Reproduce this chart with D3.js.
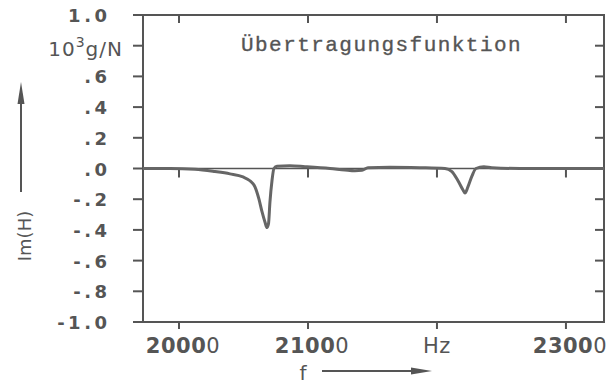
<!DOCTYPE html>
<html>
<head>
<meta charset="utf-8">
<script src="https://cdn.jsdelivr.net/npm/d3@7/dist/d3.min.js"></script>
<style>
  html, body { margin: 0; padding: 0; background: #fff; }
  svg { display: block; }
</style>
</head>
<body>
<svg id="chart" width="614" height="386"></svg>
<script>
// Measured transfer function, imaginary part, vs. frequency
const freqHz = [19721, 19930, 20124, 20279, 20395, 20496, 20550, 20589, 20620, 20643,
  20667, 20682, 20694, 20705, 20721, 20736, 20760, 20860, 20977, 21171,
  21287, 21364, 21419, 21465, 21636, 21868, 22062, 22116, 22163, 22202,
  22217, 22240, 22271, 22302, 22364, 22426, 22643, 22953, 23295];
const imH = [0.0, 0.0, -0.005, -0.02, -0.035, -0.055, -0.08, -0.12, -0.2, -0.28,
  -0.35, -0.385, -0.36, -0.22, -0.08, 0.0, 0.015, 0.018, 0.012, 0.0,
  -0.01, -0.015, -0.012, 0.005, 0.008, 0.005, 0.0, -0.02, -0.08, -0.14,
  -0.16, -0.12, -0.05, 0.0, 0.012, 0.005, 0.0, 0.0, 0.0];

const xTicks = [20000, 21000, 22000, 23000];
const xTickLabels = ["20000", "21000", "Hz", "23000"];
const yTicks = [1.0, 0.8, 0.6, 0.4, 0.2, 0.0, -0.2, -0.4, -0.6, -0.8, -1.0];
const yTickLabels = ["1.0", "", ".6", ".4", ".2", ".0", "-.2", "-.4", "-.6", "-.8", "-1.0"];

const svg = d3.select("#chart");
const ink = "#555";
const m = { left: 143, right: 604, top: 15, bottom: 322 };

const x = d3.scaleLinear().domain([19721, 23295]).range([m.left, m.right]);
const y = d3.scaleLinear().domain([-1, 1]).range([m.bottom, m.top]);

const g = svg.append("g").attr("stroke", ink).attr("fill", "none");

// frame
g.append("rect")
  .attr("x", m.left).attr("y", m.top)
  .attr("width", m.right - m.left).attr("height", m.bottom - m.top)
  .attr("stroke-width", 2);

// left ticks (outward)
g.selectAll(".yl").data(yTicks).join("line")
  .attr("x1", m.left - 10).attr("x2", m.left)
  .attr("y1", d => y(d)).attr("y2", d => y(d))
  .attr("stroke-width", 2);

// right ticks (inward)
g.selectAll(".yr").data(yTicks.filter(d => Math.abs(d) < 1)).join("line")
  .attr("x1", m.right - 9).attr("x2", m.right)
  .attr("y1", d => y(d)).attr("y2", d => y(d))
  .attr("stroke-width", 2);

// top ticks (inward), bottom ticks (outward)
g.selectAll(".xt").data(xTicks).join("line")
  .attr("x1", d => x(d)).attr("x2", d => x(d))
  .attr("y1", m.top).attr("y2", m.top + 8)
  .attr("stroke-width", 2);
g.selectAll(".xb").data(xTicks).join("line")
  .attr("x1", d => x(d)).attr("x2", d => x(d))
  .attr("y1", m.bottom).attr("y2", m.bottom + 7)
  .attr("stroke-width", 2);

// zero line with ticks hanging below it
g.append("line")
  .attr("x1", m.left).attr("x2", m.right)
  .attr("y1", y(0)).attr("y2", y(0))
  .attr("stroke-width", 1.4);
g.selectAll(".x0").data(xTicks).join("line")
  .attr("x1", d => x(d)).attr("x2", d => x(d))
  .attr("y1", y(0)).attr("y2", y(0) + 9)
  .attr("stroke-width", 2);

// curve
const line = d3.line().x((d, i) => x(freqHz[i])).y(d => y(d)).curve(d3.curveMonotoneX);
svg.append("path")
  .datum(imH)
  .attr("d", line)
  .attr("fill", "none")
  .attr("stroke", "#666")
  .attr("stroke-width", 3)
  .attr("stroke-linejoin", "round");

// y tick labels
const tickFont = "'DejaVu Sans', sans-serif";
const ySpacing = 3.5;
svg.selectAll(".ylab").data(yTicks).join("text")
  .attr("x", 107 + ySpacing)
  .attr("y", d => y(d) + 7)
  .attr("text-anchor", "end")
  .attr("font-family", tickFont)
  .attr("font-weight", "bold")
  .attr("font-size", 18)
  .attr("letter-spacing", ySpacing)
  .attr("fill", ink)
  .text((d, i) => yTickLabels[i]);

// unit label
const unit = svg.append("text")
  .attr("x", 123).attr("y", 56)
  .attr("text-anchor", "end")
  .attr("font-family", tickFont)
  .attr("font-size", 20)
  .attr("letter-spacing", 1)
  .attr("fill", ink);
unit.append("tspan").text("10");
unit.append("tspan").attr("dy", -9).attr("font-size", 14).text("3");
unit.append("tspan").attr("dy", 9).text("g/N");

// x tick labels (last digit drawn lighter)
const xl = svg.selectAll(".xlab").data(xTicks).join("text")
  .attr("x", d => x(d) + 4)
  .attr("y", 353)
  .attr("text-anchor", "middle")
  .attr("font-family", tickFont)
  .attr("font-size", 21)
  .attr("letter-spacing", 0.5)
  .attr("fill", ink);
xl.each(function(d, i) {
  const t = d3.select(this);
  const s = xTickLabels[i];
  if (/^\d+$/.test(s)) {
    t.append("tspan").attr("font-weight", "bold").text(s.slice(0, -1));
    t.append("tspan").text(s.slice(-1));
  } else {
    t.attr("x", x(d)).text(s);
  }
});

// axis titles with arrows
svg.append("text")
  .attr("transform", "translate(31,236) rotate(-90)")
  .attr("text-anchor", "middle")
  .attr("font-family", tickFont)
  .attr("font-size", 18)
  .attr("fill", ink)
  .text("Im(H)");
svg.append("line")
  .attr("x1", 21).attr("x2", 21).attr("y1", 100).attr("y2", 192)
  .attr("stroke", ink).attr("stroke-width", 2);
svg.append("path")
  .attr("d", "M21,82 L24.5,104 L17.5,104 Z")
  .attr("fill", ink);

svg.append("text")
  .attr("x", 303).attr("y", 380)
  .attr("text-anchor", "middle")
  .attr("font-family", tickFont)
  .attr("font-size", 20)
  .attr("fill", ink)
  .text("f");
svg.append("line")
  .attr("x1", 322).attr("x2", 415).attr("y1", 371).attr("y2", 371)
  .attr("stroke", ink).attr("stroke-width", 2);
svg.append("path")
  .attr("d", "M432,371 L411,367.5 L411,374.5 Z")
  .attr("fill", ink);

// title
svg.append("text")
  .attr("x", 241).attr("y", 51)
  .attr("font-family", "'Liberation Mono', monospace")
  .attr("font-size", 21)
  .attr("letter-spacing", 1.45)
  .attr("fill", "#555")
  .attr("stroke", "#555")
  .attr("stroke-width", 0.35)
  .text("Übertragungsfunktion");
</script>
</body>
</html>
